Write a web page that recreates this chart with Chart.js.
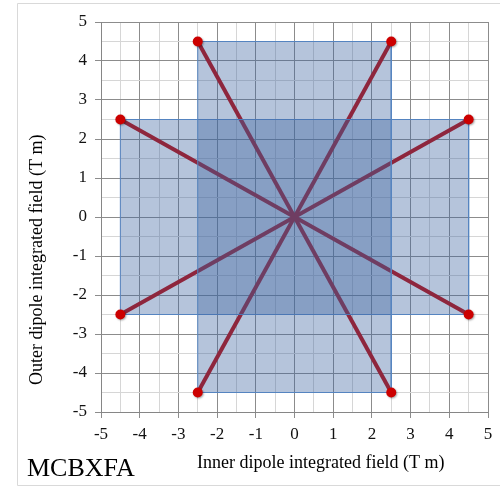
<!DOCTYPE html>
<html>
<head>
<meta charset="utf-8">
<script src="https://cdn.jsdelivr.net/npm/chart.js@4.4.0/dist/chart.umd.min.js"></script>
<style>
  html, body { margin: 0; padding: 0; background: #fff; }
  #wrap { width: 500px; height: 487px; }
</style>
</head>
<body>
<div id="wrap"><canvas id="magnetChart" width="500" height="487"></canvas></div>
<script>
// corner points of the operating envelope (inner, outer) in T m
const endX = [-4.5, -2.5, 2.5, 4.5, 4.5, 2.5, -2.5, -4.5];
const endY = [2.5, 4.5, 4.5, 2.5, -2.5, -4.5, -4.5, -2.5];

// the two shaded regions
const tallRectX = [-2.5, -2.5, 2.5, 2.5, -2.5];
const tallRectY = [-4.5, 4.5, 4.5, -4.5, -4.5];
const wideRectX = [-4.5, -4.5, 4.5, 4.5, -4.5];
const wideRectY = [-2.5, 2.5, 2.5, -2.5, -2.5];

const tickLabels = [-5, -4, -3, -2, -1, 0, 1, 2, 3, 4, 5];
const xTitle = 'Inner dipole integrated field (T m)';
const yTitle = 'Outer dipole integrated field (T m)';
const tag = 'MCBXFA';

const serif = "'Liberation Serif', 'Times New Roman', serif";
Chart.defaults.font.family = serif;
Chart.defaults.font.size = 17;
Chart.defaults.color = '#000';

const isMajor = v => tickLabels.includes(v);
const toPts = (xs, ys) => xs.map((x, i) => ({ x: x, y: ys[i] }));

const spokes = endX.map((x, i) => ({
  data: [{ x: 0, y: 0 }, { x: x, y: endY[i] }],
  showLine: true,
  borderColor: '#c00000',
  borderWidth: 4,
  pointRadius: 0,
  fill: false,
  order: 3
}));

const rect = pts => ({
  data: pts,
  showLine: true,
  fill: 'shape',
  backgroundColor: 'rgba(60,100,160,0.38)',
  borderColor: '#5584c0',
  borderWidth: 1,
  pointRadius: 0,
  tension: 0,
  order: 2
});

const gridOpts = {
  color: c => isMajor(c.tick.value) ? '#8c8c8c' : '#d6d6d6',
  tickColor: c => isMajor(c.tick.value) ? '#8c8c8c' : 'rgba(0,0,0,0)',
  tickLength: 6,
  lineWidth: 1
};

const tickOpts = {
  stepSize: 0.5,
  autoSkip: false,
  maxRotation: 0,
  color: '#111',
  font: { family: serif, size: 17 },
  callback: v => isMajor(v) ? String(v) : ''
};

// soft shadow under the end markers, like the original
const markerShadow = {
  id: 'markerShadow',
  beforeDatasetDraw(chart, args) {
    if (args.meta.order !== 1) return;
    const c = chart.ctx;
    c.save();
    c.shadowColor = 'rgba(0,0,0,0.35)';
    c.shadowBlur = 2;
    c.shadowOffsetX = 1;
    c.shadowOffsetY = 1;
  },
  afterDatasetDraw(chart, args) {
    if (args.meta.order !== 1) return;
    chart.ctx.restore();
  }
};

const frameAndText = {
  id: 'frameAndText',
  afterDraw(chart) {
    const c = chart.ctx;
    c.save();
    c.strokeStyle = '#d9d9d9';
    c.lineWidth = 1;
    c.beginPath();
    c.moveTo(501, 3.5);
    c.lineTo(17.5, 3.5);
    c.lineTo(17.5, 485.5);
    c.lineTo(501, 485.5);
    c.stroke();

    c.fillStyle = '#000';
    c.textBaseline = 'alphabetic';
    c.textAlign = 'left';
    c.font = '18px ' + serif;
    c.fillText(xTitle, 197, 468);

    c.save();
    c.translate(42, 385);
    c.rotate(-Math.PI / 2);
    c.fillText(yTitle, 0, 0);
    c.restore();

    c.font = '26px ' + serif;
    c.fillText(tag, 27, 476);
    c.restore();
  }
};

new Chart(document.getElementById('magnetChart'), {
  type: 'scatter',
  data: {
    datasets: [
      ...spokes,
      rect(toPts(tallRectX, tallRectY)),
      rect(toPts(wideRectX, wideRectY)),
      {
        data: toPts(endX, endY),
        showLine: false,
        pointRadius: 5,
        pointBackgroundColor: '#cc0000',
        pointBorderWidth: 0,
        order: 1
      }
    ]
  },
  options: {
    responsive: false,
    animation: false,
    layout: { padding: { left: 0, top: 22, right: 12, bottom: 0 } },
    plugins: { legend: { display: false }, tooltip: { enabled: false } },
    scales: {
      x: {
        type: 'linear', min: -5, max: 5,
        ticks: { ...tickOpts, padding: 6 },
        grid: gridOpts,
        border: { color: '#868686' },
        afterFit: s => { s.height = 75; }
      },
      y: {
        type: 'linear', min: -5, max: 5,
        ticks: { ...tickOpts, padding: 8 },
        grid: gridOpts,
        border: { color: '#868686' },
        afterFit: s => { s.width = 101; }
      }
    }
  },
  plugins: [markerShadow, frameAndText]
});
</script>
</body>
</html>
